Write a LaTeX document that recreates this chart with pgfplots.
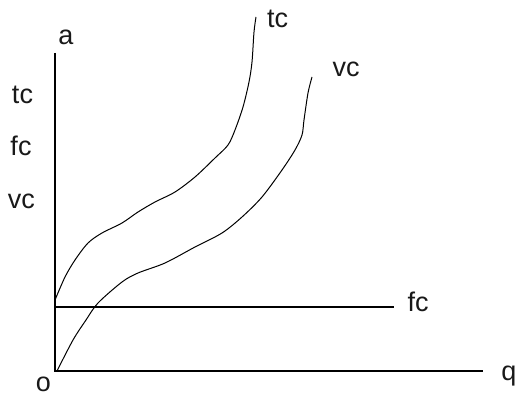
\documentclass[border=0pt]{standalone}
\usepackage{pgfplots}
\pgfplotsset{compat=1.18}
\usepackage{fontspec}
\setmainfont{Liberation Sans}
\begin{document}
\begin{tikzpicture}
\begin{axis}[
  width=520pt, height=397pt, scale only axis,
  xmin=0, xmax=520, ymin=0, ymax=397,
  hide axis, clip=false,
]
\path[draw=none] (axis cs:0,0) rectangle (axis cs:520,397);
% axes
\addplot[black, line width=1.6pt] coordinates {(55,344) (55,26) (483,26)};
% fixed cost
\addplot[black, line width=1.6pt] coordinates {(55,90) (394,90)};
% total cost
\addplot[black, line width=1pt, smooth, tension=0.5] coordinates {
(55,97) (65,120) (75,137) (88,154) (102,164) (122,174) (138,185) (155,195)
(175,205) (195,220) (215,239) (228,252) (235,267) (243,290) (249,315) (252,335) (254,365) (256,380)};
% variable cost
\addplot[black, line width=1pt, smooth, tension=0.5] coordinates {
(57,26) (73,57) (86,77) (98,94) (122,115) (138,124) (165,134) (195,150)
(222,164) (242,180) (262,200) (282,227) (295,247) (302,262) (304,277) (308,304) (312,320)};
\tikzset{lbl/.style={anchor=base, inner sep=0pt, text=black!90, font=\fontsize{27}{30}\selectfont}}
\node[lbl] at (axis cs:66,352) {a};
\node[lbl] at (axis cs:22.5,293) {tc};
\node[lbl] at (axis cs:21,241) {fc};
\node[lbl] at (axis cs:21.5,189) {vc};
\node[lbl] at (axis cs:277.5,369) {tc};
\node[lbl] at (axis cs:346,320) {vc};
\node[lbl] at (axis cs:418,86) {fc};
\node[lbl] at (axis cs:509,17) {q};
\node[lbl] at (axis cs:43.5,6) {o};
\end{axis}
\end{tikzpicture}
\end{document}
